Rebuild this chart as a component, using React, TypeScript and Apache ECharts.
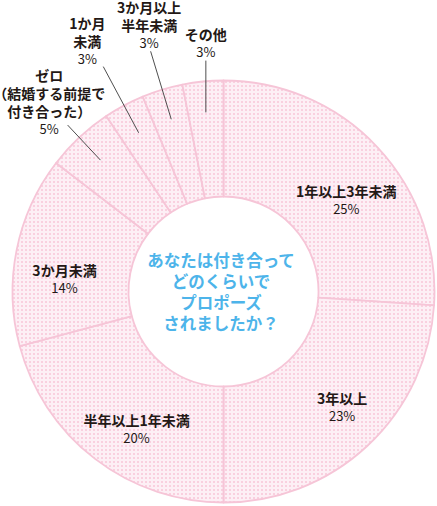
import { useEffect, useRef } from 'react';
import * as echarts from 'echarts';

// 交際期間（プロポーズまで）
const categories = [
  '1年以上3年未満',
  '3年以上',
  '半年以上1年未満',
  '3か月未満',
  'ゼロ\n（結婚する前提で\n付き合った）',
  '1か月\n未満',
  '3か月以上\n半年未満',
  'その他',
];
const shares = [25, 23, 20, 14, 5, 3, 3, 3];
const outsideLabel = [false, false, false, false, true, true, true, true];
const centerLines = ['あなたは付き合って', 'どのくらいで', 'プロポーズ', 'されましたか？'];

// leader line length (px), straight-up leader, and label shifts, per slice
const leaderLength = [0, 0, 0, 0, 48, 75, 71, 52];
const verticalLeader = [false, false, false, false, false, false, false, true];
const labelShift: [number, number][] = [
  [9, 15], [12, 1], [8, 13], [-6, 17],
  [-18.5, 12], [-16, 0], [-1.5, 0], [0, -1],
];

const INK = '#231815';
const PINK_LINE = '#f6c5d7';
const BLUE = '#4db4ea';
const FONT = '"Noto Sans CJK JP", "Noto Sans", sans-serif';
const CENTER = [223.5, 291.5];

function makeDotTile() {
  const c = document.createElement('canvas');
  c.width = 4;
  c.height = 4;
  const ctx = c.getContext('2d');
  if (ctx) {
    ctx.fillStyle = '#fdeff5';
    ctx.fillRect(0, 0, 4, 4);
    ctx.fillStyle = '#f9d0df';
    ctx.fillRect(1, 1, 2, 2);
  }
  return c.toDataURL('image/png');
}

export default function App() {
  const ref = useRef<HTMLDivElement>(null);

  useEffect(() => {
    if (!ref.current) return;
    const chart = echarts.init(ref.current, null, { renderer: 'svg' });

    const rich = {
      n: { fontSize: 14, fontWeight: 'bold', color: INK, lineHeight: 18, fontFamily: FONT },
      v: { fontSize: 13, color: INK, lineHeight: 17, fontFamily: FONT },
    };
    const fmt = (p: any) => `{n|${p.name}}\n{v|${shares[p.dataIndex]}%}`;

    const insideLayout = (p: any) => {
      const r = p.labelRect;
      if (!r) return {};
      const [dx, dy] = labelShift[p.dataIndex];
      return {
        x: r.x + r.width / 2 + dx,
        y: r.y + r.height / 2 + dy,
        align: 'center',
        verticalAlign: 'middle',
      };
    };

    const outsideLayout = (p: any) => {
      const pts = p.labelLinePoints;
      if (!pts || !pts.length) return {};
      const start = pts[0];
      let end = pts[pts.length - 1];
      let line = pts;
      if (verticalLeader[p.dataIndex]) {
        end = [start[0], end[1]];
        line = [start, end, end];
      }
      const [dx, dy] = labelShift[p.dataIndex];
      return {
        x: end[0] + dx,
        y: end[1] + dy,
        align: 'center',
        verticalAlign: 'bottom',
        labelLinePoints: line,
      };
    };

    chart.setOption({
      animation: false,
      backgroundColor: '#ffffff',
      graphic: centerLines.map((line, i) => ({
        type: 'text',
        x: 221,
        y: 291 + (i - (centerLines.length - 1) / 2) * 21,
        silent: true,
        style: {
          text: line,
          align: 'center',
          verticalAlign: 'middle',
          fill: BLUE,
          fontSize: 16.5,
          fontWeight: 'bold',
          fontFamily: FONT,
        },
      })),
      series: [
        {
          type: 'pie',
          z: 2,
          center: CENTER,
          radius: [95, 211],
          startAngle: 90,
          clockwise: true,
          silent: true,
          avoidLabelOverlap: false,
          itemStyle: {
            color: { image: makeDotTile(), repeat: 'repeat', imageWidth: 4, imageHeight: 4 },
            borderColor: PINK_LINE,
            borderWidth: 1.8,
          },
          label: { show: true, position: 'inside', formatter: fmt, rich },
          labelLine: { show: false },
          labelLayout: insideLayout,
          data: categories.map((name, i) => ({
            name,
            value: shares[i],
            label: { show: !outsideLabel[i] },
          })),
        },
        {
          type: 'pie',
          z: 4,
          center: CENTER,
          radius: [95, 180],
          startAngle: 90,
          clockwise: true,
          silent: true,
          avoidLabelOverlap: false,
          itemStyle: { color: 'rgba(0,0,0,0)', borderWidth: 0 },
          label: { show: true, position: 'outside', formatter: fmt, rich, width: 130 },
          labelLine: { show: true, length2: 0, smooth: false, lineStyle: { color: '#3a3a3a', width: 0.9 } },
          labelLayout: outsideLayout,
          data: categories.map((name, i) => ({
            name,
            value: shares[i],
            label: { show: outsideLabel[i] },
            labelLine: { show: outsideLabel[i], length: leaderLength[i] },
          })),
        },
      ],
    });

    return () => chart.dispose();
  }, []);

  return (
    <div
      ref={ref}
      style={{ position: 'fixed', left: 0, top: 0, width: 437, height: 506, background: '#fff' }}
    />
  );
}
